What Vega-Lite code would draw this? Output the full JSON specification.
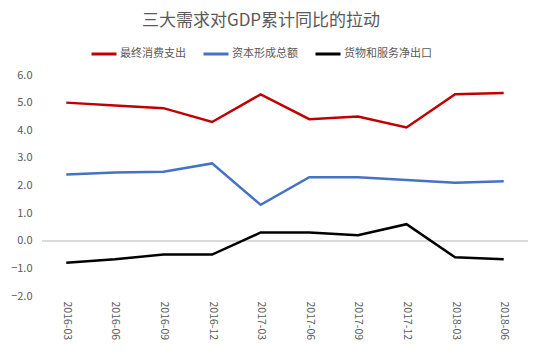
{
  "$schema": "https://vega.github.io/schema/vega-lite/v6.json",
  "width": 486,
  "height": 221,
  "autosize": {"type": "none"},
  "padding": {"left": 42, "top": 75, "right": 26, "bottom": 57},
  "background": "white",
  "title": {
    "text": "三大需求对GDP累计同比的拉动",
    "font": "Noto Sans CJK SC",
    "fontSize": 17,
    "fontWeight": "normal",
    "color": "#595959",
    "anchor": "middle",
    "dx": -24,
    "offset": 10
  },
  "config": {
    "view": {"stroke": null},
    "font": "Noto Sans CJK SC",
    "axisY": {
      "title": null,
      "labelFontSize": 11,
      "labelColor": "#595959",
      "labelPadding": 10,
      "labelOverlap": false,
      "domain": false,
      "ticks": false,
      "grid": false
    },
    "axisX": {
      "title": null,
      "labelAngle": 90,
      "labelFontSize": 10.5,
      "labelColor": "#595959",
      "labelPadding": 5,
      "labelOverlap": false,
      "domain": false,
      "ticks": false,
      "grid": false
    }
  },
  "data": {
    "values": [
      {"date": "2016-03", "series": "最终消费支出", "value": 5.0},
      {"date": "2016-06", "series": "最终消费支出", "value": 4.9},
      {"date": "2016-09", "series": "最终消费支出", "value": 4.8},
      {"date": "2016-12", "series": "最终消费支出", "value": 4.3},
      {"date": "2017-03", "series": "最终消费支出", "value": 5.3},
      {"date": "2017-06", "series": "最终消费支出", "value": 4.4},
      {"date": "2017-09", "series": "最终消费支出", "value": 4.5},
      {"date": "2017-12", "series": "最终消费支出", "value": 4.1},
      {"date": "2018-03", "series": "最终消费支出", "value": 5.3},
      {"date": "2018-06", "series": "最终消费支出", "value": 5.35},
      {"date": "2016-03", "series": "资本形成总额", "value": 2.4},
      {"date": "2016-06", "series": "资本形成总额", "value": 2.47},
      {"date": "2016-09", "series": "资本形成总额", "value": 2.5},
      {"date": "2016-12", "series": "资本形成总额", "value": 2.8},
      {"date": "2017-03", "series": "资本形成总额", "value": 1.3},
      {"date": "2017-06", "series": "资本形成总额", "value": 2.3},
      {"date": "2017-09", "series": "资本形成总额", "value": 2.3},
      {"date": "2017-12", "series": "资本形成总额", "value": 2.2},
      {"date": "2018-03", "series": "资本形成总额", "value": 2.1},
      {"date": "2018-06", "series": "资本形成总额", "value": 2.15},
      {"date": "2016-03", "series": "货物和服务净出口", "value": -0.8},
      {"date": "2016-06", "series": "货物和服务净出口", "value": -0.67},
      {"date": "2016-09", "series": "货物和服务净出口", "value": -0.5},
      {"date": "2016-12", "series": "货物和服务净出口", "value": -0.5},
      {"date": "2017-03", "series": "货物和服务净出口", "value": 0.3},
      {"date": "2017-06", "series": "货物和服务净出口", "value": 0.3},
      {"date": "2017-09", "series": "货物和服务净出口", "value": 0.2},
      {"date": "2017-12", "series": "货物和服务净出口", "value": 0.6},
      {"date": "2018-03", "series": "货物和服务净出口", "value": -0.6},
      {"date": "2018-06", "series": "货物和服务净出口", "value": -0.67}
    ]
  },
  "layer": [
    {
      "mark": {"type": "rule", "color": "#D9D9D9", "strokeWidth": 1},
      "encoding": {
        "y": {
          "datum": 0,
          "type": "quantitative",
          "axis": {"values": [-2, -1, 0, 1, 2, 3, 4, 5, 6], "format": ".1f"}
        }
      }
    },
    {
      "mark": {"type": "line", "strokeWidth": 2.5},
      "encoding": {
        "x": {
          "field": "date",
          "type": "ordinal",
          "scale": {"type": "point", "padding": 0.5}
        },
        "y": {
          "field": "value",
          "type": "quantitative",
          "scale": {"domain": [-2, 6], "nice": false},
          "axis": {"values": [-2, -1, 0, 1, 2, 3, 4, 5, 6], "format": ".1f"}
        },
        "color": {
          "field": "series",
          "type": "nominal",
          "scale": {
            "domain": ["最终消费支出", "资本形成总额", "货物和服务净出口"],
            "range": ["#C00000", "#4472C4", "#000000"]
          },
          "legend": {
            "title": null,
            "orient": "none",
            "direction": "horizontal",
            "legendX": 48,
            "legendY": -35,
            "symbolType": "stroke",
            "symbolSize": 625,
            "symbolStrokeWidth": 3,
            "labelFontSize": 11,
            "labelColor": "#595959",
            "labelOffset": 2,
            "columnPadding": 11
          }
        }
      }
    }
  ]
}
